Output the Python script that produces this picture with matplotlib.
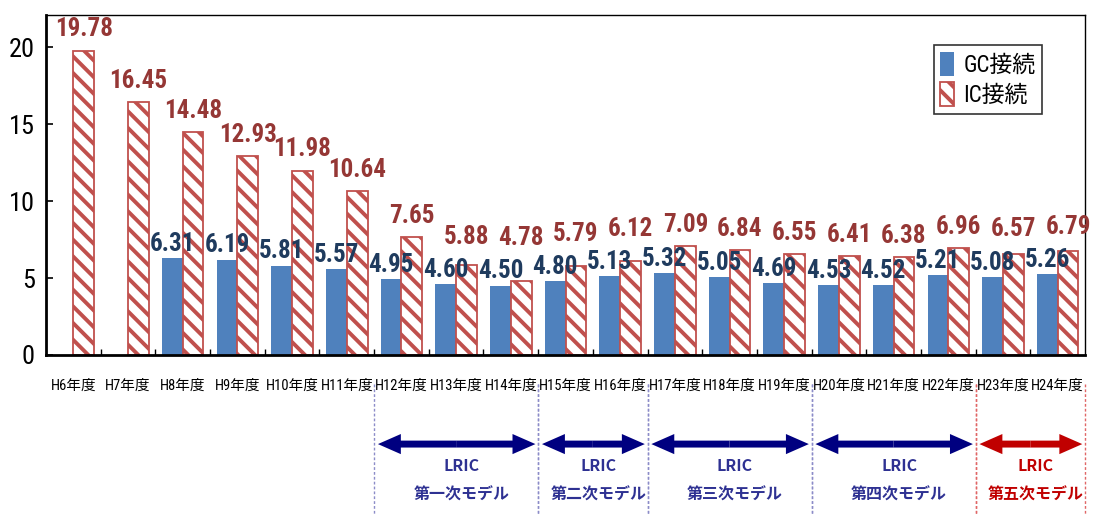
import matplotlib
matplotlib.use("Agg")
import matplotlib.pyplot as plt
import matplotlib.transforms as mtransforms
from matplotlib import font_manager
import numpy as np

# ---- data ----
years = ["H6年度", "H7年度", "H8年度", "H9年度", "H10年度", "H11年度", "H12年度",
         "H13年度", "H14年度", "H15年度", "H16年度", "H17年度", "H18年度", "H19年度",
         "H20年度", "H21年度", "H22年度", "H23年度", "H24年度"]
gc_values = [None, None, 6.31, 6.19, 5.81, 5.57, 4.95, 4.60, 4.50, 4.80, 5.13,
             5.32, 5.05, 4.69, 4.53, 4.52, 5.21, 5.08, 5.26]
ic_values = [19.78, 16.45, 14.48, 12.93, 11.98, 10.64, 7.65, 5.88, 4.78, 5.79, 6.12,
             7.09, 6.84, 6.55, 6.41, 6.38, 6.96, 6.57, 6.79]
series_names = ["GC接続", "IC接続"]
model_top = ["LRIC", "LRIC", "LRIC", "LRIC", "LRIC"]
model_names = ["第一次モデル", "第二次モデル", "第三次モデル", "第四次モデル", "第五次モデル"]
model_start = ["H12年度", "H15年度", "H17年度", "H20年度", "H23年度"]
model_end = ["H14年度", "H16年度", "H19年度", "H22年度", "H24年度"]
yticks = [0, 5, 10, 15, 20]

# ---- pick a narrow font ----
fl = font_manager.fontManager.ttflist
names = {f.name for f in fl}
narrow_family = None
stretch = "normal"
for cand in ["Liberation Sans Narrow", "Arial Narrow", "Roboto Condensed",
             "Open Sans Condensed", "Noto Sans Condensed"]:
    if cand in names:
        narrow_family = cand
        break
if narrow_family is None:
    for fam in ["DejaVu Sans", "Roboto", "Noto Sans", "Open Sans"]:
        if any(f.name == fam and str(f.stretch) in ("condensed", "semi-condensed", "extra-condensed", "75", "87")
               for f in fl):
            narrow_family = fam
            stretch = "condensed"
            break
if narrow_family is None:
    narrow_family = "Liberation Sans"

NARROW = [narrow_family, "Noto Sans CJK JP", "DejaVu Sans"]
CJK = ["Noto Sans CJK JP", "DejaVu Sans"]
plt.rcParams["hatch.linewidth"] = 2.8
BLUE = "#4F81BD"
RED = "#C0504D"
GC_TXT = "#1F3B5E"
IC_TXT = "#953735"

fig = plt.figure(figsize=(10.96, 5.14), dpi=100)
ax = fig.add_axes([46 / 1096, 159 / 514, (1085 - 46) / 1096, 340 / 514])

x = np.arange(len(years))
w = 0.38
gc_arr = np.array([np.nan if v is None else v for v in gc_values], dtype=float)
ic_arr = np.array(ic_values, dtype=float)

ax.bar(x - w / 2, np.nan_to_num(gc_arr), w, color=BLUE, edgecolor="none",
       label=series_names[0], zorder=2)
ax.bar(x + w / 2, ic_arr, w, facecolor="white", edgecolor=RED, hatch="\\\\",
       linewidth=1.3, label=series_names[1], zorder=2)

# data labels
for i in range(len(years)):
    g = gc_arr[i]
    if not np.isnan(g):
        ax.text(x[i] - w / 2, g + 0.15, f"{g:.2f}", ha="center", va="bottom",
                fontsize=18, fontweight="bold", color=GC_TXT, family=NARROW,
                fontstretch=stretch, zorder=5)
    base = ic_arr[i] if np.isnan(g) else max(ic_arr[i], g + 1.7)
    ax.text(x[i] + w / 2, base + 0.6, f"{ic_arr[i]:.2f}", ha="center", va="bottom",
            fontsize=18, fontweight="bold", color=IC_TXT, family=NARROW,
            fontstretch=stretch, zorder=5)

ax.set_xlim(-0.5, len(years) - 0.5)
ax.set_ylim(0, 22.1)
ax.set_yticks(yticks)
ax.set_yticklabels([str(t) for t in yticks], family=NARROW, fontsize=19,
                   fontstretch=stretch)
ax.tick_params(axis="y", direction="in", length=5, width=1.2, pad=8)
ax.set_xticks(x)
ax.set_xticklabels(years, family=NARROW, fontsize=10.5, fontstretch=stretch)
ax.tick_params(axis="x", which="major", length=0, pad=17)
ax.set_xticks(np.arange(0.5, len(years) - 0.5, 1.0), minor=True)
ax.tick_params(axis="x", which="minor", direction="in", length=4, width=1.0)

for s in ["left", "bottom"]:
    ax.spines[s].set_linewidth(2.0)
for s in ["top", "right"]:
    ax.spines[s].set_linewidth(1.0)

leg = ax.legend(loc="upper right", bbox_to_anchor=(0.97, 0.945), frameon=True,
                fancybox=False, edgecolor="black", handlelength=0.6, handleheight=1.2,
                handletextpad=0.4, borderpad=0.3, labelspacing=0.25,
                prop={"family": NARROW, "size": 16.5, "stretch": stretch})
leg.get_frame().set_linewidth(1.2)

# model period annotations below axis
trans = mtransforms.blended_transform_factory(ax.transData, ax.transAxes)
idx = {y: i for i, y in enumerate(years)}
for k in range(len(model_names)):
    a = idx[model_start[k]] - 0.5
    b = idx[model_end[k]] + 0.5
    red = (k == len(model_names) - 1)
    acol = "#C00000" if red else "#000080"
    tcol = "#C00000" if red else "#2E3192"
    for bx in (a, b):
        lcol = "#E06666" if (red or bx == idx[model_start[-1]] - 0.5) else "#8C8CC8"
        ax.plot([bx, bx], [-0.085, -0.47], transform=trans, clip_on=False,
                color=lcol, lw=1.0, ls=(0, (2, 1.5)), zorder=1)
    c = (a + b) / 2
    y_ar = -0.262
    for tip in (a + 0.07, b - 0.05):
        ax.annotate("", xy=(tip, y_ar), xycoords=trans, xytext=(c, y_ar), textcoords=trans,
                    arrowprops=dict(arrowstyle="simple,head_length=1.65,head_width=1.45,tail_width=0.5",
                                    color=acol, lw=0, shrinkA=0, shrinkB=0, mutation_scale=10),
                    annotation_clip=False)
    ax.text(c + 0.1, -0.326, model_top[k], transform=trans, ha="center", va="center",
            fontsize=11.5, fontweight="bold", color=tcol, family=CJK)
    ax.text(c + 0.1, -0.412, model_names[k], transform=trans, ha="center", va="center",
            fontsize=11.5, fontweight="bold", color=tcol, family=CJK)

fig.savefig("out.png", dpi=100)
